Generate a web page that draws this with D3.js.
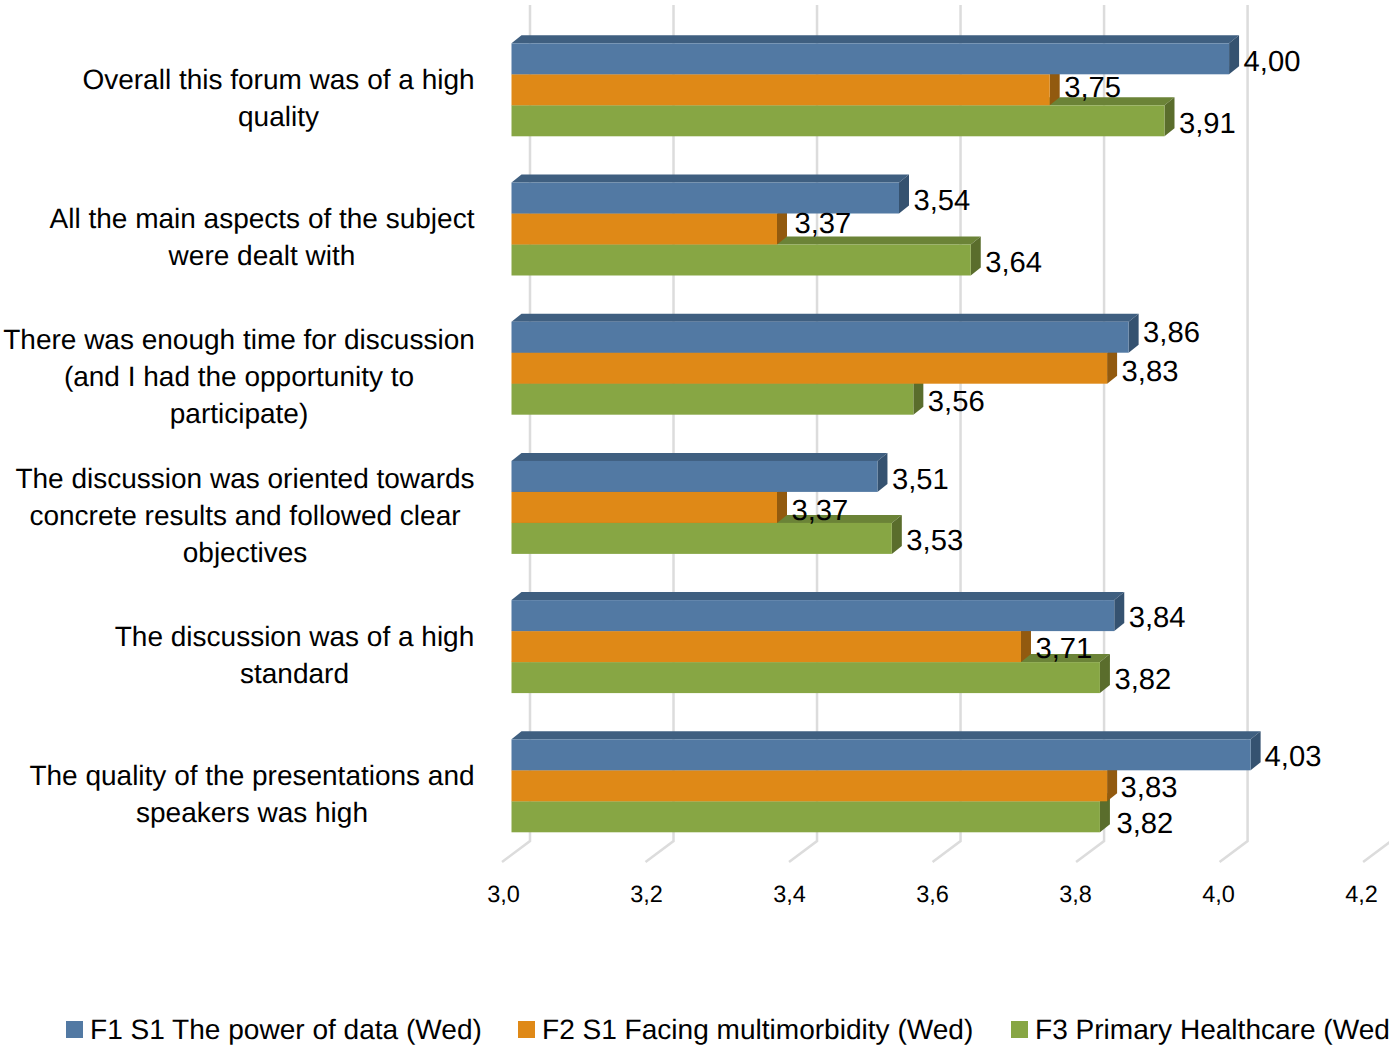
<!DOCTYPE html>
<html><head><meta charset="utf-8">
<script src="https://cdn.jsdelivr.net/npm/d3@7/dist/d3.min.js"></script>
<style>html,body{margin:0;padding:0;background:#fff;overflow:hidden}svg{display:block}text{font-family:"Liberation Sans",Arial,sans-serif;fill:#000;text-rendering:geometricPrecision}</style>
</head><body><svg id="c" width="1389" height="1046"></svg>
<script>
const categoryLines = [
  ["Overall this forum was of a high","quality"],
  ["All the main aspects of the subject","were dealt with"],
  ["There was enough time for discussion","(and I had the opportunity to","participate)"],
  ["The discussion was oriented towards","concrete results and followed clear","objectives"],
  ["The discussion was of a high","standard"],
  ["The quality of the presentations and","speakers was high"]
];
const seriesNames = ["F1 S1 The power of data (Wed)","F2 S1 Facing multimorbidity (Wed)","F3 Primary Healthcare (Wed)"];
const f1Values = [4.00,3.54,3.86,3.51,3.84,4.03];
const f2Values = [3.75,3.37,3.83,3.37,3.71,3.83];
const f3Values = [3.91,3.64,3.56,3.53,3.82,3.82];
const tickValues = [3.0,3.2,3.4,3.6,3.8,4.0,4.2];
const seriesValues = [f1Values,f2Values,f3Values];

const frontColors = ["#5279a3","#df8917","#87a644"];
const topColors   = ["#3f5f80","#a8680f","#6b8337"];
const sideColors  = ["#355270","#925a0f","#5a6d2c"];
// hand-placed data-label nudges [dx,dy] seen in the reference: [group][series]
const labelNudge = [
  [[0,0],[0,-5],[0,0]],
  [[0,0],[3,-8],[0,0]],
  [[0,-8],[0,0],[0,0]],
  [[0,0],[0,0],[0,-0.5]],
  [[0,-1],[0,-1],[0,-1]],
  [[-0.5,-1],[-1,-1],[2,4]]
];
const legendX = [66,518,1011];

const svg = d3.select("#c");
const DX = 10, DY = -8;                 // bar depth
const WX = 18.5;                        // wall offset from front plane
const x = d3.scaleLinear().domain([3,4.2]).range([511.5,1372.6]);
const xTick = d3.scaleLinear().domain([3,4.2]).range([503.5,1361.5]);
const y = d3.scaleBand().domain(d3.range(6)).range([20.2,855.4]).paddingInner(0.332).paddingOuter(0.166);
const yS = d3.scaleBand().domain([0,1,2]).range([0,y.bandwidth()]);
const comma = v => d3.format(".1f")(v).replace(".",",");
const comma2 = v => d3.format(".2f")(v).replace(".",",");

// gridlines on back wall + floor segments
const grid = svg.append("g").attr("stroke","#dcdcdc").attr("stroke-width",2.5).attr("fill","none");
tickValues.forEach(t=>{
  const bx = x(t)+WX;
  grid.append("path").attr("d",`M${bx},5V841L${bx-28},862`);
});
// tick labels
svg.append("g").selectAll("text").data(tickValues).join("text")
  .attr("x",d=>xTick(d)).attr("y",902).attr("text-anchor","middle").attr("font-size",23.5).text(comma);

// bars: bottom series first so the upper bar's front hides the lower bar's top
const bars = svg.append("g");
d3.range(6).forEach(g=>{
  [2,1,0].forEach(s=>{
    const v = seriesValues[s][g];
    const x0 = x(3), x1 = x(v), y0 = y(g)+yS(s), h = yS.bandwidth();
    bars.append("path").attr("fill",topColors[s])
      .attr("d",`M${x0},${y0}l${DX},${DY}H${x1+DX}l${-DX},${-DY}Z`);
    bars.append("path").attr("fill",sideColors[s])
      .attr("d",`M${x1},${y0}l${DX},${DY}v${h}l${-DX},${-DY}Z`);
    bars.append("rect").attr("fill",frontColors[s])
      .attr("x",x0).attr("y",y0).attr("width",x1-x0).attr("height",h);
  });
});
// data labels
const labels = svg.append("g").attr("font-size",29.2);
d3.range(6).forEach(g=>{
  [0,1,2].forEach(s=>{
    const v = seriesValues[s][g], n = labelNudge[g][s];
    labels.append("text").attr("x",x(v)+14.5+n[0])
      .attr("y",y(g)+yS(s)+yS.bandwidth()/2+12.3+n[1]).text(comma2(v));
  });
});
// category labels
const cats = svg.append("g").attr("font-size",28);
const catCenter = [278.5,262,239,245,294.5,252];
categoryLines.forEach((lines,g)=>{
  const mid = y(g)+y.bandwidth()/2+8.1;
  lines.forEach((l,i)=>{
    cats.append("text").attr("x",catCenter[g]).attr("text-anchor","middle")
      .attr("y",mid+(i-(lines.length-1)/2)*37.1+9.5).text(l);
  });
});
// legend
const leg = svg.append("g");
seriesNames.forEach((n,i)=>{
  leg.append("rect").attr("x",legendX[i]).attr("y",1021).attr("width",17).attr("height",17).attr("fill",frontColors[i]);
  leg.append("text").attr("x",legendX[i]+24).attr("y",1039).attr("font-size",28.05).text(n);
});
</script></body></html>
